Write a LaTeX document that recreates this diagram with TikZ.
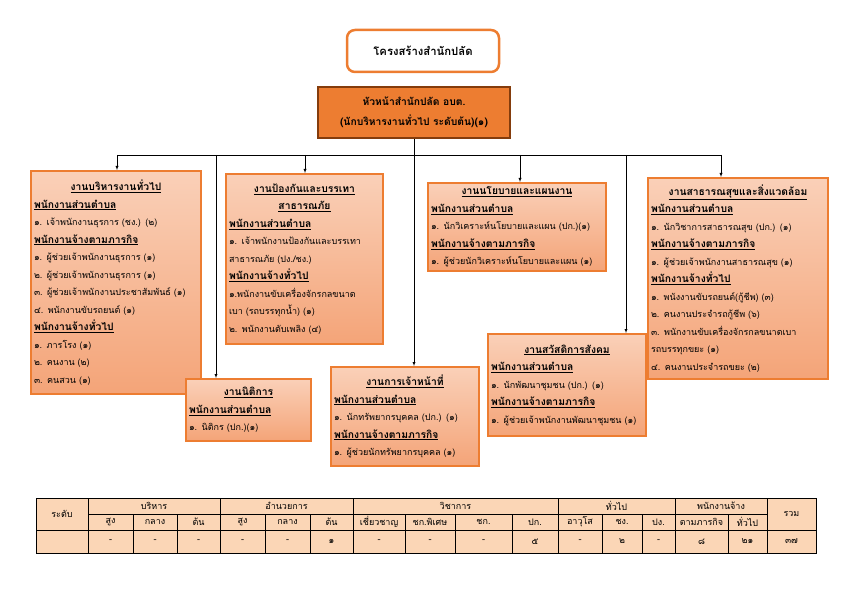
\documentclass[tikz,border=0pt]{standalone}
\usepackage{fontspec}
\newfontfamily\thaifont[Script=Thai]{Loma}
\usetikzlibrary{arrows}
\usetikzlibrary{shapes}

\definecolor{orangeline}{RGB}{237,125,49}
\definecolor{peachtop}{RGB}{250,208,184}
\definecolor{peachbot}{RGB}{244,164,120}
\definecolor{headfill}{RGB}{237,125,49}
\definecolor{headline}{RGB}{132,60,12}
\definecolor{tablefill}{RGB}{251,214,182}

\newcommand{\hd}[1]{{\fontsize{10.3}{17.5}\selectfont\underline{\textbf{#1}}}}
\newcommand{\boxtitle}[1]{\makebox[\hsize]{\hd{#1}}}

\tikzset{
  unitbox/.style={draw=orangeline, line width=2pt, top color=peachtop, bottom color=peachbot,
    anchor=north west, align=left, inner sep=3pt, font=\thaifont\fontsize{9}{17.5}\selectfont},
  titlebox/.style={draw=orangeline, line width=2.5pt, fill=white, rounded corners=8pt,
    minimum width=152pt, minimum height=42pt, font=\thaifont\bfseries\fontsize{11.3}{13}\selectfont},
  headbox/.style={draw=headline, line width=2pt, fill=headfill, minimum width=192pt,
    minimum height=51pt, align=center, font=\thaifont\bfseries\fontsize{10.3}{20}\selectfont},
  cell/.style={font=\thaifont\fontsize{9}{10}\selectfont, inner sep=0pt},
  >=latex
}

\begin{document}
\begin{tikzpicture}[x=1pt,y=-1pt,font=\thaifont]
        \useasboundingbox (0,0) rectangle (850,601);
        \node[titlebox] (title) at (423,51) {โครงสร้างสำนักปลัด};
        \node[headbox] (head) at (414,112.5) {หัวหน้าสำนักปลัด อบต.\\(นักบริหารงานทั่วไป ระดับต้น)(๑)};

        \node[unitbox, text width=164pt, minimum width=170pt, minimum height=223pt] (admin) at (30,170) {%
          \boxtitle{งานบริหารงานทั่วไป}\\
          \hd{พนักงานส่วนตำบล}\\
          ๑. เจ้าพนักงานธุรการ (ชง.) (๒)\\
          \hd{พนักงานจ้างตามภารกิจ}\\
          ๑. ผู้ช่วยเจ้าพนักงานธุรการ (๑)\\
          ๒. ผู้ช่วยเจ้าพนักงานธุรการ (๑)\\
          ๓. ผู้ช่วยเจ้าพนักงานประชาสัมพันธ์ (๑)\\
          ๔. พนักงานขับรถยนต์ (๑)\\
          \hd{พนักงานจ้างทั่วไป}\\
          ๑. ภารโรง (๑)\\
          ๒. คนงาน (๒)\\
          ๓. คนสวน (๑)};
        \node[unitbox, text width=151pt, minimum width=157pt, minimum height=170pt] (safety) at (225,173) {%
          \boxtitle{งานป้องกันและบรรเทา}\\
          \boxtitle{สาธารณภัย}\\
          \hd{พนักงานส่วนตำบล}\\
          ๑. เจ้าพนักงานป้องกันและบรรเทา\\
          สาธารณภัย (ปง./ชง.)\\
          \hd{พนักงานจ้างทั่วไป}\\
          ๑.พนักงานขับเครื่องจักรกลขนาด\\
          เบา (รถบรรทุกน้ำ) (๑)\\
          ๒. พนักงานดับเพลิง (๔)};
        \node[unitbox, text width=172pt, minimum width=178pt, minimum height=88pt] (policy) at (427,182) {%
          \boxtitle{งานนโยบายและแผนงาน}\\
          \hd{พนักงานส่วนตำบล}\\
          ๑. นักวิเคราะห์นโยบายและแผน (ปก.)(๑)\\
          \hd{พนักงานจ้างตามภารกิจ}\\
          ๑. ผู้ช่วยนักวิเคราะห์นโยบายและแผน (๑)};
        \node[unitbox, text width=174pt, minimum width=180pt, minimum height=201pt] (health) at (647,177) {%
          \boxtitle{งานสาธารณสุขและสิ่งแวดล้อม}\\
          \hd{พนักงานส่วนตำบล}\\
          ๑. นักวิชาการสาธารณสุข (ปก.) (๑)\\
          \hd{พนักงานจ้างตามภารกิจ}\\
          ๑. ผู้ช่วยเจ้าพนักงานสาธารณสุข (๑)\\
          \hd{พนักงานจ้างทั่วไป}\\
          ๑. พนังงานขับรถยนต์(กู้ชีพ) (๓)\\
          ๒. คนงานประจำรถกู้ชีพ (๖)\\
          ๓. พนักงานขับเครื่องจักรกลขนาดเบา\\
          รถบรรทุกขยะ (๑)\\
          ๔. คนงานประจำรถขยะ (๒)};
        \node[unitbox, text width=119pt, minimum width=125pt, minimum height=62pt] (legal) at (185,378) {%
          \boxtitle{งานนิติการ}\\
          \hd{พนักงานส่วนตำบล}\\
          ๑. นิติกร (ปก.)(๑)};
        \node[unitbox, text width=142pt, minimum width=148pt, minimum height=99pt] (staff) at (330,366) {%
          \boxtitle{งานการเจ้าหน้าที่}\\
          \hd{พนักงานส่วนตำบล}\\
          ๑. นักทรัพยากรบุคคล (ปก.) (๑)\\
          \hd{พนักงานจ้างตามภารกิจ}\\
          ๑. ผู้ช่วยนักทรัพยากรบุคคล (๑)};
        \node[unitbox, text width=152pt, minimum width=158pt, minimum height=102pt] (welfare) at (487,333) {%
          \boxtitle{งานสวัสดิการสังคม}\\
          \hd{พนักงานส่วนตำบล}\\
          ๑. นักพัฒนาชุมชน (ปก.) (๑)\\
          \hd{พนักงานจ้างตามภารกิจ}\\
          ๑. ผู้ช่วยเจ้าพนักงานพัฒนาชุมชน (๑)};

        % bus line under the head box
        \coordinate (bus) at (414,155);
        \coordinate (b-admin) at (117,155);
        \coordinate (b-legal) at (216,155);
        \coordinate (b-safety) at (305,155);
        \coordinate (b-staff) at (414,155);
        \coordinate (b-policy) at (520,155);
        \coordinate (b-welfare) at (626,155);
        \coordinate (b-health) at (721,155);
        \draw (head.south) -- (head.south |- bus);
        \draw (b-admin) -- (b-health);
        \draw[->] (b-admin) -- (b-admin |- admin.north);
        \draw[->] (b-legal) -- (b-legal |- legal.north);
        \draw[->] (b-safety) -- (b-safety |- safety.north);
        \draw[->] (b-staff) -- (b-staff |- staff.north);
        \draw[->] (b-policy) -- (b-policy |- policy.north);
        \draw[->] (b-welfare) -- (b-welfare |- welfare.north);
        \draw[->] (b-health) -- (b-health |- health.north);

        % staff table
        \fill[tablefill] (36,498) rectangle (816,553);
        \draw (36,498) rectangle (816,553);
        \draw (88,514) -- (767,514);
        \draw (36,530) -- (816,530);
        \foreach \x in {88,220,353,558,675,767} \draw (\x,498) -- (\x,553);
        \foreach \x in {133,177,265,310,405,455,512,602,642,728} \draw (\x,514) -- (\x,553);
        \node[cell] (lvl) at (62,514) {ระดับ};
        \node[cell] (total) at (791.5,514) {รวม};
        \foreach \x/\t [count=\i] in {154/บริหาร,286.5/อำนวยการ,455.5/วิชาการ,616.5/ทั่วไป,721/พนักงานจ้าง}
          \node[cell] (grp\i) at (\x,506) {\t};
        \foreach \x/\t/\v [count=\i] in {110.5/สูง/-,155/กลาง/-,198.5/ต้น/-,242.5/สูง/-,287.5/กลาง/-,331.5/ต้น/๑,
            379/เชี่ยวชาญ/-,430/ชก.พิเศษ/-,483.5/ชก./-,535/ปก./๕,580/อาวุโส/-,622/ชง./๒,658.5/ปง./-,
            701.5/ตามภารกิจ/๘,747.5/ทั่วไป/๒๑,791.5//๓๗}
          {\node[cell] (sub\i) at (\x,522) {\t};
           \node[cell] (val\i) at (\x,541.5) {\v};}
        \end{tikzpicture}
\end{document}
